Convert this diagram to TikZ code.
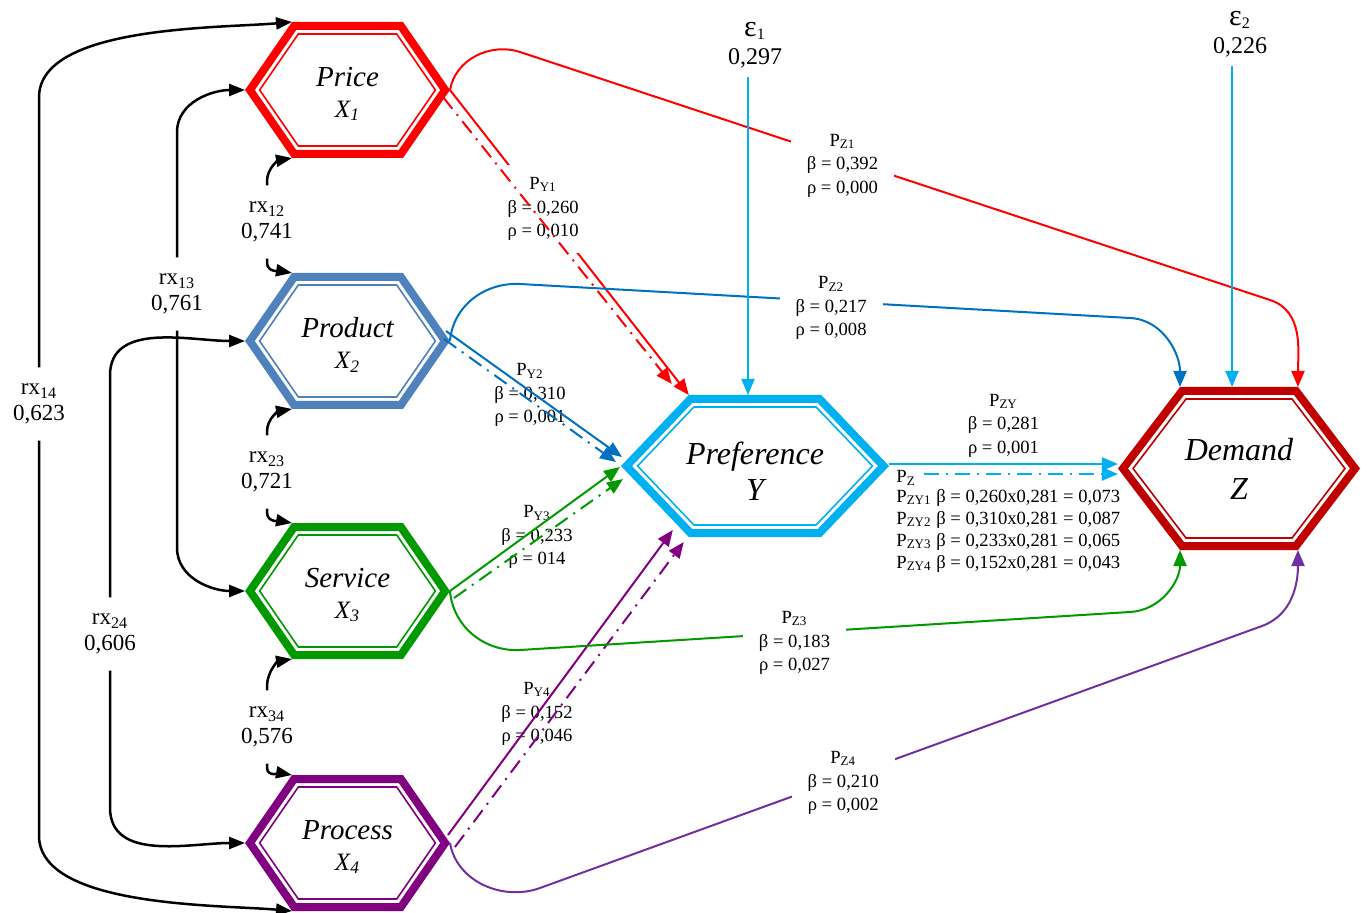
\documentclass[tikz,border=0pt]{standalone}
\usepackage{fontspec}
\setmainfont{Liberation Serif}
\usetikzlibrary{arrows.meta}

\definecolor{xred}{HTML}{FF0000}
\definecolor{xblue}{HTML}{4F81BD}
\definecolor{lblue}{HTML}{0070C0}
\definecolor{xgreen}{HTML}{009900}
\definecolor{xpurple}{HTML}{800080}
\definecolor{lpurple}{HTML}{7030A0}
\definecolor{ycyan}{HTML}{00B0F0}
\definecolor{zred}{HTML}{C00000}

\tikzset{
    hexlabel/.style={align=center, font=\fontsize{14.5}{15.5}\selectfont\itshape, inner sep=0pt, text=black},
    plbl/.style={align=center, font=\fontsize{9.3}{11.75}\selectfont, inner xsep=8pt, inner ysep=6pt, text=black},
    rlbl/.style={align=center, font=\fontsize{11.5}{13}\selectfont, inner xsep=2pt, inner ysep=8pt},
    epslbl/.style={align=center, font=\fontsize{12}{14}\selectfont, inner ysep=4.5pt},
    corr/.style={line width=1.25pt, -{Triangle[length=8pt,width=6pt]}},
    pline/.style={line width=1pt, -{Triangle[length=8pt,width=6.5pt]}},
    dashdotline/.style={dash pattern=on 7.5pt off 3.5pt on 1pt off 3.5pt}
}

% name, centre, half width, half height, tip, colour, label options, label
\newcommand{\hexagonnode}[8]{%
    \pgfmathsetmacro{\hexow}{#3+4*sqrt(#4*#4+#5*#5)/#4}%
    \pgfmathsetmacro{\hexoh}{#4+4}%
    \pgfmathsetmacro{\hexot}{#5*\hexoh/#4}%
    \pgfmathsetmacro{\hexiw}{#3-8*sqrt(#4*#4+#5*#5)/#4}%
    \pgfmathsetmacro{\hexih}{#4-8}%
    \pgfmathsetmacro{\hexit}{#5*\hexih/#4}%
    \begin{scope}[shift={(#2)}]
        \draw[line width=4pt, draw=#6, fill=white]
            (-#3,0) -- (-#3+#5,-#4) -- (#3-#5,-#4) -- (#3,0) -- (#3-#5,#4) -- (-#3+#5,#4) -- cycle;
        \draw[line width=0.8pt, draw=#6]
            (-\hexiw,0) -- (-\hexiw+\hexit,-\hexih) -- (\hexiw-\hexit,-\hexih) -- (\hexiw,0)
            -- (\hexiw-\hexit,\hexih) -- (-\hexiw+\hexit,\hexih) -- cycle;
        \path (-\hexow,0) coordinate (#1-w)
              (-\hexow+\hexot,-\hexoh) coordinate (#1-nw)
              (0,-\hexoh) coordinate (#1-n)
              (\hexow-\hexot,-\hexoh) coordinate (#1-ne)
              (\hexow,0) coordinate (#1-e)
              (\hexow-\hexot,\hexoh) coordinate (#1-se)
              (0,\hexoh) coordinate (#1-s)
              (-\hexow+\hexot,\hexoh) coordinate (#1-sw);
        \node[hexlabel, #7] (#1) at (0,0) {#8};
    \end{scope}}

\begin{document}
\begin{tikzpicture}[x=0.5pt, y=-0.5pt]
    \useasboundingbox (0,0) rectangle (1368,913);

    % hexagons
    \hexagonnode{X1}{347.5,90}{97.6}{64}{44.2}{xred}{yshift=-2pt}{Price\\{\fontsize{12.5}{12}\selectfont X\textsubscript{1}}}
    \hexagonnode{X2}{347.5,341}{97.6}{64}{44.2}{xblue}{yshift=-2pt}{Product\\{\fontsize{12.5}{12}\selectfont X\textsubscript{2}}}
    \hexagonnode{X3}{347.5,591}{97.6}{64}{44.2}{xgreen}{yshift=-2pt}{Service\\{\fontsize{12.5}{12}\selectfont X\textsubscript{3}}}
    \hexagonnode{X4}{347.5,843}{97.6}{64}{44.2}{xpurple}{yshift=-2pt}{Process\\{\fontsize{12.5}{12}\selectfont X\textsubscript{4}}}
    \hexagonnode{Y}{755,466}{128.5}{67}{64}{ycyan}{font=\fontsize{16}{18}\selectfont\itshape, yshift=-2.5pt}{Preference\\Y}
    \hexagonnode{Z}{1239,468.5}{116}{77.5}{59}{zred}{font=\fontsize{16}{19.5}\selectfont\itshape}{Demand\\Z}

    % correlations
    \begin{scope}[every node/.style={rlbl}]
        \node (rx12) at (267,222) {rx\textsubscript{12}\\0,741};
        \node (rx23) at (267,472) {rx\textsubscript{23}\\0,721};
        \node (rx34) at (267,727) {rx\textsubscript{34}\\0,576};
        \node (rx13) at (177,294) {rx\textsubscript{13}\\0,761};
        \node (rx24) at (110,634) {rx\textsubscript{24}\\0,606};
        \node (rx14) at (39,404) {rx\textsubscript{14}\\0,623};
    \end{scope}

    \draw[corr] (rx12.north) -- ++(0,-4) to[out=90,in=190] (X1-sw);
    \draw[corr] (rx12.south) -- ++(0,4) to[out=-90,in=170] (X2-nw);
    \draw[corr] (rx23.north) -- ++(0,-4) to[out=90,in=190] (X2-sw);
    \draw[corr] (rx23.south) -- ++(0,4) to[out=-90,in=170] (X3-nw);
    \draw[corr] (rx34.north) -- ++(0,-4) to[out=90,in=190] (X3-sw);
    \draw[corr] (rx34.south) -- ++(0,4) to[out=-90,in=170] (X4-nw);
    \draw[corr] (rx13.north) -- ++(0,-125) to[out=90,in=180] (X1-w);
    \draw[corr] (rx13.south) -- ++(0,217) to[out=-90,in=180] (X3-w);
    \draw[corr] (rx24.north) -- ++(0,-222) to[out=90,in=180] (X2-w);
    \draw[corr] (rx24.south) -- ++(0,137) to[out=-90,in=180] (X4-w);
    \draw[corr] (rx14.north) -- ++(0,-270) to[out=90,in=185,looseness=0.7] (X1-nw);
    \draw[corr] (rx14.south) -- ++(0,395) to[out=-90,in=175,looseness=0.7] (X4-sw);

    % paths to Y
    \begin{scope}[every node/.style={plbl}]
        \node (py2) at (530,395) {P\textsubscript{Y2}\\β = 0,310\\ρ = 0,001};
        \node (py3) at (537,537) {P\textsubscript{Y3}\\β = 0,233\\ρ = 014};
        \node (py4) at (537,714) {P\textsubscript{Y4}\\β = 0,152\\ρ = 0,046};
    \end{scope}

    \draw[pline, xred] (X1-e) -- node[plbl, fill=white, pos=0.39] (py1) {P\textsubscript{Y1}\\β = 0,260\\ρ = 0,010} (Y-nw);
    \draw[pline, xred, dashdotline] ([shift={(-7,7)}]X1-e) -- ([shift={(-17,-11)}]Y-nw);
    \draw[pline, lblue] ([shift={(-4,-10)}]X2-e) -- ([shift={(1,-9)}]Y-w);
    \draw[pline, lblue, dashdotline] ([shift={(-6,-2)}]X2-e) -- ([shift={(-5,-4)}]Y-w);
    \draw[pline, xgreen] (X3-e) -- ([shift={(-1,1)}]Y-w);
    \draw[pline, xgreen, dashdotline] ([shift={(4,7)}]X3-e) -- ([shift={(2,13)}]Y-w);
    \draw[pline, xpurple] ([shift={(-2,-8)}]X4-e) -- ([shift={(-16,-7)}]Y-sw);
    \draw[pline, xpurple, dashdotline] ([shift={(5,4)}]X4-e) -- ([shift={(-5,5)}]Y-sw);

    % paths to Z
    \draw[pline, xred] (X1-e) to[out=80,in=162] (520,52)
        -- node[plbl, fill=white, pos=0.43, yshift=-3.5pt] (pz1) {P\textsubscript{Z1}\\β = 0,392\\ρ = 0,000} (1270,300)
        to[out=-18,in=90] (Z-ne);
    \draw[pline, lblue] (X2-e) to[out=85,in=177] (520,284)
        -- node[plbl, fill=white, pos=0.51, yshift=-3.5pt] (pz2) {P\textsubscript{Z2}\\β = 0,217\\ρ = 0,008} (1130,318)
        to[out=-3,in=90] (Z-nw);
    \draw[pline, xgreen] (X3-e) to[out=-85,in=183] (520,650)
        -- node[plbl, fill=white, pos=0.45, yshift=-5pt] (pz3) {P\textsubscript{Z3}\\β = 0,183\\ρ = 0,027} (1130,612)
        to[out=3,in=-90] (Z-sw);
    \draw[pline, lpurple] (X4-e) to[out=-80,in=200] (540,888)
        -- node[plbl, fill=white, pos=0.42, yshift=-2.5pt] (pz4) {P\textsubscript{Z4}\\β = 0,210\\ρ = 0,002} (1262,626)
        to[out=20,in=-90] (Z-se);

    % Y to Z
    \draw[pline, ycyan] ([shift={(0,-2)}]Y-e) -- node[plbl, above, inner ysep=3pt] (pzy) {P\textsubscript{ZY}\\β = 0,281\\ρ = 0,001} ([shift={(0,-4.5)}]Z-w);
    \node[plbl, anchor=west, inner sep=0pt] (pz) at (896,478) {P\textsubscript{Z}};
    \coordinate (pzs) at ([shift={(8,-4)}]pz.east);
    \draw[pline, ycyan, dashdotline] (pzs) -- (pzs -| Z-w);
    \node[plbl, anchor=north west, align=left, inner sep=0pt, font=\fontsize{9.3}{11}\selectfont] (pzind) at (896,489)
        {P\textsubscript{ZY1} β = 0,260x0,281 = 0,073\\
         P\textsubscript{ZY2} β = 0,310x0,281 = 0,087\\
         P\textsubscript{ZY3} β = 0,233x0,281 = 0,065\\
         P\textsubscript{ZY4} β = 0,152x0,281 = 0,043};

    % residuals
    \node[epslbl] (eps1) at (755,45) {{\fontsize{15}{14}\selectfont ε}\textsubscript{1}\\0,297};
    \node[epslbl] (eps2) at (1240,34) {{\fontsize{15}{14}\selectfont ε}\textsubscript{2}\\0,226};
    \coordinate (e1) at ([xshift=-3.5pt]eps1.south);
    \coordinate (e2) at ([xshift=-4pt]eps2.south);
    \draw[pline, ycyan] (e1) -- (e1 |- Y-n);
    \draw[pline, ycyan] (e2) -- (e2 |- Z-n);

\end{tikzpicture}
\end{document}
